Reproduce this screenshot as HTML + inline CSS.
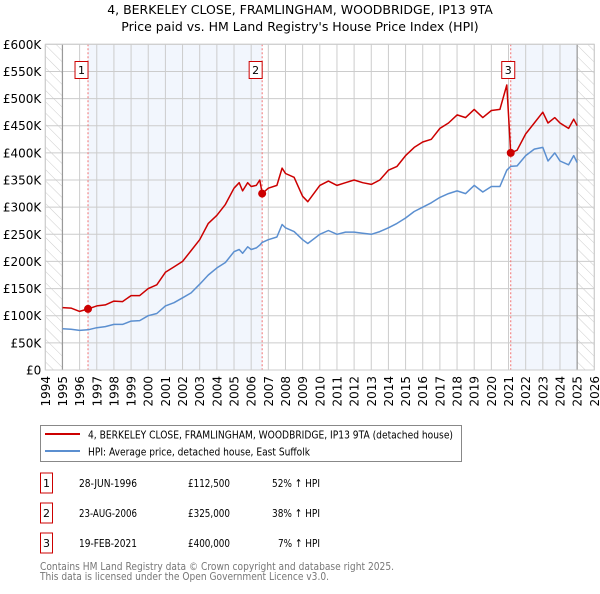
<!DOCTYPE html>
<html><head><meta charset="utf-8"><style>
body{margin:0;background:#fff;font-family:"DejaVu Sans","Liberation Sans",sans-serif;}
svg text{font-family:"DejaVu Sans","Liberation Sans",sans-serif;}
</style></head><body>
<svg id="chart" width="600" height="590" xmlns="http://www.w3.org/2000/svg">
<defs><pattern id="hatch" patternUnits="userSpaceOnUse" width="8" height="8" patternTransform="rotate(-45)"><line x1="0" y1="0" x2="0" y2="8" stroke="#ccc" stroke-width="1"/></pattern></defs>
<text x="300" y="14" text-anchor="middle" font-size="12.5">4, BERKELEY CLOSE, FRAMLINGHAM, WOODBRIDGE, IP13 9TA</text>
<text x="300" y="31" text-anchor="middle" font-size="12.5">Price paid vs. HM Land Registry's House Price Index (HPI)</text>
<g id="plot"></g>
<rect x="40.5" y="425.5" width="421" height="36" fill="#fff" stroke="#888"/>
<line x1="45" y1="434" x2="80" y2="434" stroke="#cc0000" stroke-width="2"/>
<text x="88" y="438.5" font-size="11" textLength="365" lengthAdjust="spacingAndGlyphs">4, BERKELEY CLOSE, FRAMLINGHAM, WOODBRIDGE, IP13 9TA (detached house)</text>
<line x1="45" y1="451" x2="80" y2="451" stroke="#5b8fd0" stroke-width="2"/>
<text x="88" y="455.5" font-size="11" textLength="222" lengthAdjust="spacingAndGlyphs">HPI: Average price, detached house, East Suffolk</text>
<g id="table" font-size="11"></g>
<text x="40" y="570" font-size="11" fill="#777" textLength="354" lengthAdjust="spacingAndGlyphs">Contains HM Land Registry data © Crown copyright and database right 2025.</text>
<text x="40" y="580" font-size="11" fill="#777" textLength="289" lengthAdjust="spacingAndGlyphs">This data is licensed under the Open Government Licence v3.0.</text>
</svg>
<script>
const years=[1995,1995.5,1996,1996.49,1997,1997.5,1998,1998.5,1999,1999.5,2000,2000.5,2001,2001.5,2002,2002.5,2003,2003.5,2004,2004.5,2005,2005.3,2005.5,2005.8,2006,2006.3,2006.5,2006.64,2007,2007.5,2007.8,2008,2008.5,2009,2009.3,2010,2010.5,2011,2011.5,2012,2012.5,2013,2013.5,2014,2014.5,2015,2015.5,2016,2016.5,2017,2017.5,2018,2018.5,2019,2019.5,2020,2020.5,2020.9,2021.13,2021.5,2022,2022.5,2023,2023.3,2023.7,2024,2024.5,2024.8,2025];
const priceSeries=[115,114,108,112.5,118,120,127,126,137,137,150,157,180,190,200,220,240,270,285,305,335,345,330,345,338,340,350,325,335,340,372,362,355,320,310,340,348,340,345,350,345,342,350,368,375,395,410,420,425,445,455,470,465,480,465,478,480,525,400,405,435,455,475,455,465,455,445,462,450];
const hpiSeries=[76,75,73,74,78,80,84,84,90,91,100,104,118,124,133,142,158,175,188,198,218,222,215,227,222,225,230,235,240,245,268,262,255,240,233,250,257,250,254,254,252,250,255,262,270,280,292,300,308,318,325,330,325,340,328,338,338,368,375,376,395,407,410,385,400,385,378,395,382];
const saleLabels=["1","2","3"];
const saleYears=[1996.49,2006.64,2021.13];
const salePrices=[112.5,325,400];
const saleDates=["28-JUN-1996","23-AUG-2006","19-FEB-2021"];
const salePriceText=["£112,500","£325,000","£400,000"];
const saleHpiText=["52% ↑ HPI","38% ↑ HPI","7% ↑ HPI"];
const yTicks=[0,50,100,150,200,250,300,350,400,450,500,550,600];
const yTickLabels=["£0","£50K","£100K","£150K","£200K","£250K","£300K","£350K","£400K","£450K","£500K","£550K","£600K"];
const xTicks=[1994,1995,1996,1997,1998,1999,2000,2001,2002,2003,2004,2005,2006,2007,2008,2009,2010,2011,2012,2013,2014,2015,2016,2017,2018,2019,2020,2021,2022,2023,2024,2025,2026];

const NS="http://www.w3.org/2000/svg";
const X0=45.3,X1=594.3,Y0=370,Y1=44.3;
const xs=y=>X0+(y-1994)/32*(X1-X0);
const ys=v=>Y0-v/600*(Y0-Y1);
const g=document.getElementById('plot');
function mk(tag,at,parent){const e=document.createElementNS(NS,tag);for(const k in at)e.setAttribute(k,at[k]);(parent||g).appendChild(e);return e;}
let e;
e=mk('rect',{x:X0,y:Y1,width:X1-X0,height:Y0-Y1,fill:'#fff'});


e=mk('rect',{x:xs(saleYears[0]),y:Y1,width:xs(saleYears[1])-xs(saleYears[0]),height:Y0-Y1,fill:'#f2f6fd'});


e=mk('rect',{x:xs(saleYears[2]),y:Y1,width:xs(2025)-xs(saleYears[2]),height:Y0-Y1,fill:'#f2f6fd'});


e=mk('rect',{x:X0,y:Y1,width:xs(1995)-X0,height:Y0-Y1,fill:'url(#hatch)'});


e=mk('rect',{x:xs(2025),y:Y1,width:X1-xs(2025),height:Y0-Y1,fill:'url(#hatch)'});


yTicks.forEach((v,i)=>{
  e=mk('line',{x1:X0,x2:X1,y1:ys(v),y2:ys(v),stroke:'#ccc','stroke-width':1});
  
  
  e=mk('text',{x:X0-4,y:ys(v)+4.5,'text-anchor':'end','font-size':12});
  e.textContent=yTickLabels[i];
  
  
});
xTicks.forEach(t=>{
  e=mk('line',{x1:xs(t),x2:xs(t),y1:Y1,y2:Y0,stroke:'#ccc','stroke-width':1});
  
  
  e=mk('text',{x:0,y:0,'text-anchor':'end','font-size':12,transform:`translate(${xs(t)+4.5},${Y0+6}) rotate(-90)`});
  e.textContent=t;
  
  
});
[1995,2025].forEach(t=>{e=mk('line',{x1:xs(t),x2:xs(t),y1:Y1,y2:Y0,stroke:'#999','stroke-width':1.2});

});
saleYears.forEach((t,i)=>{
  e=mk('line',{x1:xs(t),x2:xs(t),y1:Y1,y2:Y0,stroke:'#f07070','stroke-width':1,'stroke-dasharray':'2,2'});
  
  
});
function path(arr){return arr.map((v,i)=>(i?'L':'M')+xs(years[i]).toFixed(1)+','+ys(v).toFixed(1)).join('');}
e=mk('path',{d:path(hpiSeries),fill:'none',stroke:'#5b8fd0','stroke-width':1.5,'stroke-linejoin':'round'});


e=mk('path',{d:path(priceSeries),fill:'none',stroke:'#cc0000','stroke-width':1.5,'stroke-linejoin':'round'});


saleYears.forEach((t,i)=>{
  e=mk('circle',{cx:xs(t),cy:ys(salePrices[i]),r:4,fill:'#cc0000'});
  
  
  const bx=xs(t)-(i==2?3:7)-6;
  e=mk('rect',{x:bx,y:61.5,width:13,height:17,fill:'#fff',stroke:'#cc0000'});
  
  
  e=mk('text',{x:bx+6.5,y:74,'text-anchor':'middle','font-size':11});
  e.textContent=saleLabels[i];
  
  
});
e=mk('rect',{x:X0,y:Y1,width:X1-X0,height:Y0-Y1,fill:'none',stroke:'#ccc'});


const tb=document.getElementById('table');
const pctW=[48,48,42];
saleLabels.forEach((l,i)=>{
  const cy=483+i*30;
  e=mk('rect',{x:40.5,y:cy-10,width:12,height:20,fill:'#fff',stroke:'#cc0000'},tb);
  
  
  e=mk('text',{x:46.5,y:cy+4,'text-anchor':'middle'},tb);e.textContent=l;
  
  
  e=mk('text',{x:137,y:cy+4,'text-anchor':'end',textLength:58,lengthAdjust:'spacingAndGlyphs'},tb);e.textContent=saleDates[i];
  
  
  e=mk('text',{x:230,y:cy+4,'text-anchor':'end',textLength:42,lengthAdjust:'spacingAndGlyphs'},tb);e.textContent=salePriceText[i];
  
  
  e=mk('text',{x:320,y:cy+4,'text-anchor':'end',textLength:pctW[i],lengthAdjust:'spacingAndGlyphs'},tb);e.textContent=saleHpiText[i];
  
  
});
</script>
</body></html>
